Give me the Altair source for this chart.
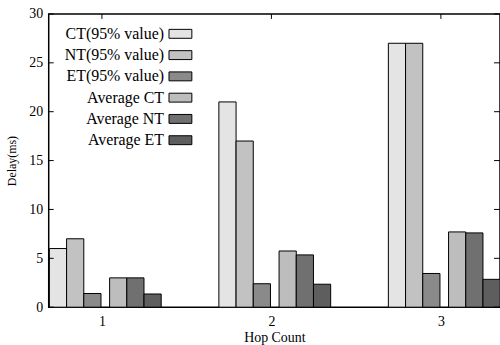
import altair as alt
import pandas as pd

hops = [1, 2, 3]
series = ["CT(95% value)", "NT(95% value)", "ET(95% value)",
          "Average CT", "Average NT", "Average ET"]
ct95 = [6.0, 21.0, 27.0]
nt95 = [7.0, 17.0, 27.0]
et95 = [1.4, 2.4, 3.45]
avg_ct = [3.0, 5.75, 7.7]
avg_nt = [3.0, 5.35, 7.6]
avg_et = [1.35, 2.35, 2.85]
y_ticks = [0, 5, 10, 15, 20, 25, 30]

values = [ct95, nt95, et95, avg_ct, avg_nt, avg_et]
grays = ["#e4e4e4", "#c2c2c2", "#8a8a8a", "#bdbdbd", "#707070", "#5e5e5e"]

# layout of bars inside a group (in x-data units)
bar_w = 0.1015
slots = [0, 1, 2, 3.5, 4.5, 5.5]
start = -0.31

rows = []
for si, (name, vals) in enumerate(zip(series, values)):
    for h, v in zip(hops, vals):
        x0 = h + start + slots[si] * bar_w
        rows.append({"series": name, "hop": h, "x0": x0, "x1": x0 + bar_w, "value": v})
bars_df = pd.DataFrame(rows)
legend_df = pd.DataFrame({"series": series})
yt_df = pd.DataFrame({"v": y_ticks})
xt_df = pd.DataFrame({"h": hops})

W, H = 454, 295
FONT = "Liberation Serif"
xdom = [0.686, 0.686 + W / 170.5]
xscale = alt.Scale(domain=xdom, nice=False, zero=False)
yscale = alt.Scale(domain=[0, 30], nice=False, zero=True)
color = alt.Color("series:N", scale=alt.Scale(domain=series, range=grays), legend=None)

bars = alt.Chart(bars_df).mark_rect(stroke="black", strokeWidth=1).encode(
    x=alt.X("x0:Q", scale=xscale,
            axis=alt.Axis(values=hops, title="Hop Count", format="d", ticks=False,
                          domain=False, grid=False, labelPadding=7,
                          labelFontSize=14, titleFontSize=14, titleFont=FONT,
                          labelFont=FONT, labelColor="black", titleColor="black",
                          titleFontWeight="normal", titlePadding=3)),
    x2="x1:Q",
    y=alt.Y("value:Q", scale=yscale,
            axis=alt.Axis(values=y_ticks, title="Delay(ms)", ticks=False, domain=False,
                          grid=False, labelPadding=6, labelFontSize=14,
                          titleFontSize=12, labelFont=FONT, titleFont=FONT,
                          labelColor="black", titleColor="black",
                          titleFontWeight="normal", titlePadding=10)),
    y2=alt.datum(0),
    color=color,
)

left_ticks = alt.Chart(yt_df).mark_rule(color="black", strokeWidth=1).encode(
    y=alt.Y("v:Q", scale=yscale, axis=None), x=alt.value(0), x2=alt.value(5))
right_ticks = alt.Chart(yt_df).mark_rule(color="black", strokeWidth=1).encode(
    y=alt.Y("v:Q", scale=yscale, axis=None), x=alt.value(W - 6), x2=alt.value(W))
top_ticks = alt.Chart(xt_df).mark_rule(color="black", strokeWidth=1).encode(
    x=alt.X("h:Q", scale=xscale), y=alt.value(0), y2=alt.value(5))

leg_y = alt.Y("series:N", sort=series,
              scale=alt.Scale(type="point", domain=series, range=[20, 127], padding=0),
              axis=None)
leg_text = alt.Chart(legend_df).mark_text(
    align="right", baseline="middle", font=FONT, fontSize=16, color="black"
).encode(x=alt.value(116), y=leg_y, text="series:N")
leg_sw = alt.Chart(legend_df).mark_point(
    shape="M-1,-0.39H1V0.39H-1Z", size=529, filled=True, opacity=1,
    stroke="black", strokeWidth=1
).encode(x=alt.value(132.5), y=leg_y, fill=alt.Fill("series:N",
         scale=alt.Scale(domain=series, range=grays), legend=None))

chart = alt.layer(bars, left_ticks, right_ticks, top_ticks, leg_text, leg_sw).resolve_scale(
    y="independent"
).properties(
    width=W, height=H,
    autosize=alt.AutoSizeParams(type="none"),
    padding={"left": 49, "top": 13, "right": 0, "bottom": 37},
    background="white",
).configure_view(stroke="black", strokeWidth=1.5)

chart.save("out.html", embed_options={"renderer": "svg", "actions": False})
